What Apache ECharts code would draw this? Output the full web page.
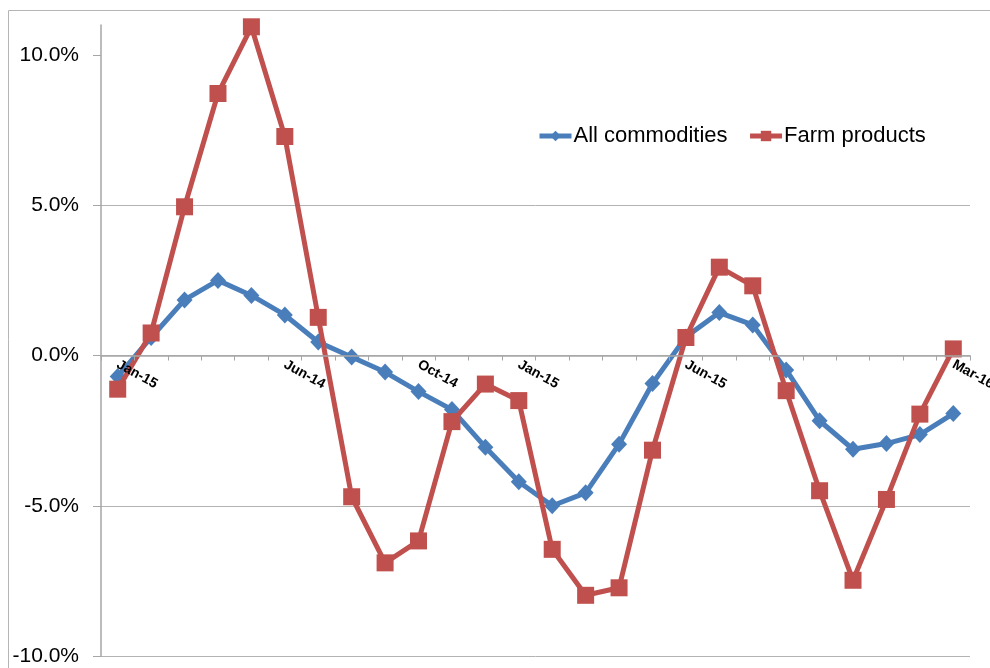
<!DOCTYPE html>
<html>
<head>
<meta charset="utf-8">
<script src="https://cdn.jsdelivr.net/npm/echarts@6/dist/echarts.min.js"></script>
<style>
  html, body { margin: 0; padding: 0; background: #fff; }
  #chart { width: 990px; height: 668px; }
</style>
</head>
<body>
<div id="chart"></div>
<script>
// Monthly change, percent
const positions = ['1','2','3','4','5','6','7','8','9','10','11','12','13','14','15','16','17','18','19','20','21','22','23','24','25','26'];
const tickLabels = ['Jan-15','','','','','Jun-14','','','','Oct-14','','','Jan-15','','','','','Jun-15','','','','','','','','Mar-16'];
const allCommodities = [-0.7, 0.6, 1.85, 2.5, 2.0, 1.35, 0.45, -0.05, -0.55, -1.2, -1.8, -3.05, -4.2, -5.0, -4.57, -2.95, -0.93, 0.62, 1.43, 1.02, -0.48, -2.17, -3.12, -2.93, -2.63, -1.93];
const farmProducts = [-1.12, 0.75, 4.95, 8.72, 10.94, 7.29, 1.27, -4.7, -6.9, -6.17, -2.2, -0.95, -1.5, -6.45, -7.98, -7.73, -3.15, 0.6, 2.94, 2.32, -1.17, -4.5, -7.48, -4.79, -1.95, 0.22];
const yTicks = [-10, -5, 0, 5, 10];
const yMin = -10, yMax = 11;

const W = 990, H = 668;
const gridTop = 25, gridBottom = 12;
// the category axis sits on the zero line: shift it up from the bottom edge
const plotHeight = H - gridTop - gridBottom;
const zeroOffset = -plotHeight * (0 - yMin) / (yMax - yMin);

const chart = echarts.init(document.getElementById('chart'));
const axisGray = '#a6a6a6';
const fontFamily = '"Liberation Sans", Arial, sans-serif';

chart.setOption({
  animation: false,
  backgroundColor: '#fff',
  textStyle: { fontFamily: fontFamily },
  graphic: [{
    type: 'rect',
    shape: { x: 8.5, y: 10.5, width: 1000, height: 700 },
    style: { fill: 'none', stroke: '#b5b5b5', lineWidth: 1 },
    silent: true
  }],
  legend: {
    left: 532,
    top: 120,
    itemWidth: 32,
    itemHeight: 13,
    itemGap: 20,
    lineStyle: { width: 5 },
    textStyle: { fontSize: 22, color: '#000', fontFamily: fontFamily, padding: [0, 0, 0, -3] },
    data: ['All commodities', 'Farm products']
  },
  grid: { left: 101, right: 20, top: gridTop, bottom: gridBottom, containLabel: false, outerBoundsMode: 'none' },
  xAxis: {
    type: 'category',
    data: positions,
    boundaryGap: true,
    offset: zeroOffset,
    z: 10,
    axisLine: { onZero: false, lineStyle: { color: axisGray, width: 1.5 } },
    axisTick: { show: true, interval: 0, length: 5, lineStyle: { color: axisGray } },
    axisLabel: {
      interval: 0,
      rotate: -29,
      margin: 8,
      fontSize: 14,
      fontWeight: 'bold',
      color: '#000',
      fontFamily: fontFamily,
      formatter: (v, i) => tickLabels[i]
    },
    splitLine: { show: false }
  },
  yAxis: {
    type: 'value',
    min: yMin,
    max: yMax,
    interval: 5,
    axisLine: { show: true, lineStyle: { color: axisGray, width: 1.5 } },
    axisTick: { show: true, inside: false, length: 8, customValues: yTicks, lineStyle: { color: axisGray } },
    axisLabel: {
      customValues: yTicks,
      margin: 22,
      fontSize: 21,
      color: '#000',
      fontFamily: fontFamily,
      formatter: v => v.toFixed(1) + '%'
    },
    splitLine: { show: true, showMaxLine: false, lineStyle: { color: '#b3b3b3', width: 1 } }
  },
  series: [
    {
      name: 'All commodities',
      type: 'line',
      data: allCommodities,
      color: '#4A7EBB',
      symbol: 'diamond',
      symbolSize: [16, 17],
      lineStyle: { width: 5, color: '#4A7EBB' },
      itemStyle: { color: '#4A7EBB' },
      z: 2
    },
    {
      name: 'Farm products',
      type: 'line',
      data: farmProducts,
      color: '#C0504D',
      symbol: 'rect',
      symbolSize: 17,
      lineStyle: { width: 5, color: '#C0504D' },
      itemStyle: { color: '#C0504D' },
      clip: false,
      z: 3
    }
  ]
});
</script>
</body>
</html>
